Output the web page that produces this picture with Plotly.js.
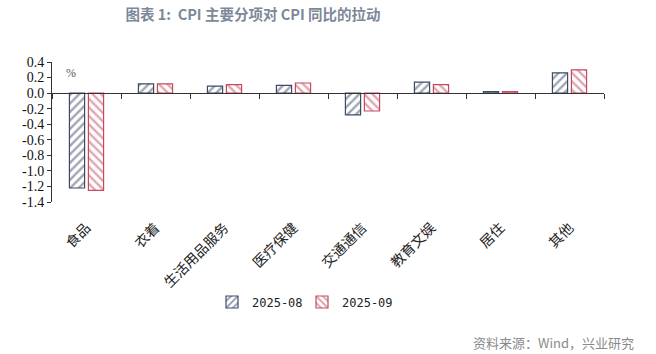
<!DOCTYPE html>
<html>
<head>
<meta charset="utf-8">
<script src="https://cdn.plot.ly/plotly-3.0.1.min.js"></script>
<style>
html,body{margin:0;padding:0;background:#fff;}
#chart{width:656px;height:354px;}
</style>
</head>
<body>
<div id="chart"></div>
<script>
const categories = ['食品', '衣着', '生活用品服务', '医疗保健', '交通通信', '教育文娱', '居住', '其他'];
const seriesNames = ['2025-08', '2025-09'];
const aug = [-1.22, 0.12, 0.09, 0.10, -0.28, 0.14, 0.02, 0.26];
const sep = [-1.25, 0.12, 0.11, 0.13, -0.23, 0.11, 0.02, 0.30];
const yTicks = [0.4, 0.2, 0.0, -0.2, -0.4, -0.6, -0.8, -1.0, -1.2, -1.4];
const boundaryTicks = [-0.5, 0.5, 1.5, 2.5, 3.5, 4.5, 5.5, 6.5, 7.5];

const navy = '#3c4a66';
const red = '#c54a5e';

const traces = [
  {
    type: 'bar', name: seriesNames[0], x: categories, y: aug, legend: 'legend',
    marker: {color: '#ffffff', line: {color: navy, width: 1.2},
      pattern: {shape: '/', fgcolor: navy, bgcolor: '#ffffff', size: 6, solidity: 0.4, fillmode: 'overlay'}},
    hoverinfo: 'skip'
  },
  {
    type: 'bar', name: seriesNames[1], x: categories, y: sep, legend: 'legend2',
    marker: {color: '#ffffff', line: {color: red, width: 1.2},
      pattern: {shape: '\\', fgcolor: red, bgcolor: '#ffffff', size: 6, solidity: 0.4, fillmode: 'overlay'}},
    hoverinfo: 'skip'
  }
];

const yMin = -1.4, yMax = 0.4;
const zeroPos = (0 - yMin) / (yMax - yMin);
const legendFont = {family: 'DejaVu Sans Mono, monospace', size: 12, color: '#222'};

const layout = {
  width: 656, height: 354,
  margin: {l: 52, r: 52, t: 62, b: 152},
  paper_bgcolor: '#ffffff', plot_bgcolor: '#ffffff',
  barmode: 'group', bargap: 0.45, bargroupgap: 0.2,
  showlegend: true,
  legend: {orientation: 'h', x: (212-52)/552, xanchor: 'left', y: (202-302)/140, yanchor: 'middle',
    font: legendFont, itemwidth: 30, bgcolor: 'rgba(0,0,0,0)'},
  legend2: {orientation: 'h', x: (302-52)/552, xanchor: 'left', y: (202-302)/140, yanchor: 'middle',
    font: legendFont, itemwidth: 30, bgcolor: 'rgba(0,0,0,0)'},
  title: {text: '<b>图表 1:  CPI 主要分项对 CPI 同比的拉动</b>', x: 253/656, xanchor: 'center', y: 0.958, yanchor: 'middle',
    font: {family: 'Noto Sans CJK SC', size: 14.5, color: '#7d8898'}},
  xaxis: {
    type: 'category', showline: false, ticks: '', showgrid: false, zeroline: false,
    tickangle: -45, ticklabelstandoff: 14,
    tickfont: {family: 'Noto Sans CJK SC', size: 14, color: '#222'}
  },
  xaxis2: {
    overlaying: 'x', anchor: 'free', position: zeroPos, range: [-0.5, 7.5],
    tickmode: 'array', tickvals: boundaryTicks, showticklabels: false,
    ticks: 'outside', ticklen: 5, tickcolor: '#333', showline: true, linecolor: '#333', linewidth: 1,
    showgrid: false, zeroline: false
  },
  yaxis: {
    range: [yMin, yMax], tickmode: 'array', tickvals: yTicks,
    ticktext: yTicks.map(v => v.toFixed(1)),
    ticks: 'outside', ticklen: 4, tickcolor: '#333', showline: true, linecolor: '#333', linewidth: 1,
    showgrid: false, zeroline: false,
    tickfont: {family: 'Liberation Serif', size: 14, color: '#111'}
  },
  annotations: [
    {text: '%', xref: 'paper', yref: 'paper', x: (64-52)/552, y: (202-73)/140, xanchor: 'left', yanchor: 'middle', showarrow: false,
      font: {family: 'Liberation Serif', size: 12, color: '#555'}},
    {text: '资料来源：Wind，兴业研究', xref: 'paper', yref: 'paper', x: (636-52)/552, y: (202-342)/140, xanchor: 'right', yanchor: 'middle', showarrow: false,
      font: {family: 'Noto Sans CJK SC', size: 13, color: '#8a8a8a'}}
  ]
};

traces.push({type: 'scatter', x: [0], y: [0], xaxis: 'x2', mode: 'markers', marker: {opacity: 0}, showlegend: false, hoverinfo: 'skip'});

Plotly.newPlot('chart', traces, layout, {displayModeBar: false, staticPlot: true});
</script>
</body>
</html>
